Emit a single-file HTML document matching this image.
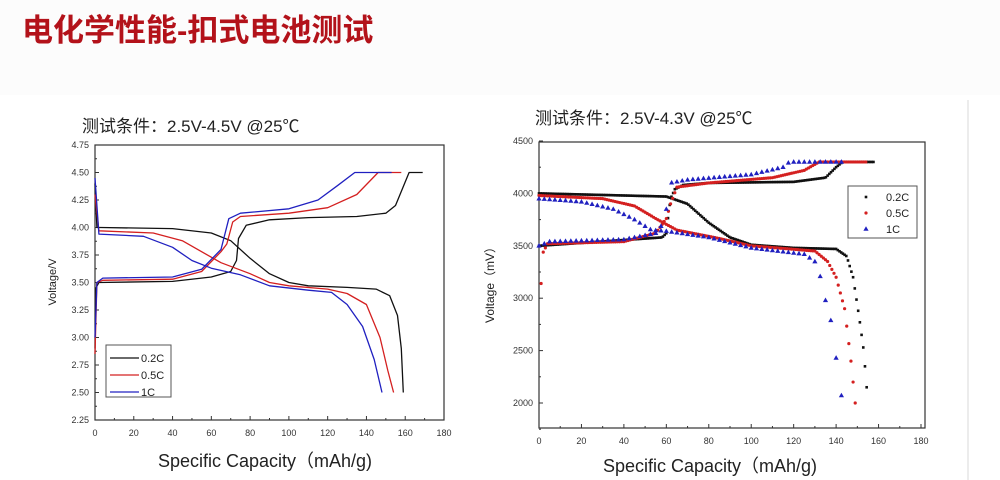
<!DOCTYPE html>
<html><head><meta charset="utf-8"><style>
body{margin:0;width:1000px;height:480px;background:#fff;overflow:hidden;font-family:"Liberation Sans","Noto Sans CJK SC",sans-serif;}
svg{position:absolute;left:0;top:0}
</style></head><body>
<svg id="s" width="1000" height="480" xmlns="http://www.w3.org/2000/svg" font-family="Liberation Sans, Noto Sans CJK SC, sans-serif">
<rect x="0" y="0" width="1000" height="95" fill="#fcfcfc"/>
<text x="22" y="41" font-size="31" font-weight="bold" fill="#b3121a" font-family="Liberation Sans, Noto Sans CJK SC, sans-serif">电化学性能-扣式电池测试</text>
<text x="82" y="132" font-size="17" fill="#222">测试条件：2.5V-4.5V  @25℃</text>
<text x="535" y="124" font-size="17" fill="#222">测试条件：2.5V-4.3V  @25℃</text>
<line x1="968" y1="100" x2="968" y2="480" stroke="#ececec" stroke-width="2"/>
<g id="L"></g><g id="R"></g>
</svg>
<script>
var NS="http://www.w3.org/2000/svg";
function el(p,t,a,txt){var e=document.createElementNS(NS,t);for(var k in a)e.setAttribute(k,a[k]);if(txt!=null)e.textContent=txt;p.appendChild(e);return e;}
var L=document.getElementById('L');
var lx0=95,lx1=444,ly0=145,ly1=420;
function LX(x){return lx0+x*(lx1-lx0)/180;}
function LY(v){return ly1-(v-2.25)*(ly1-ly0)/2.5;}
el(L,'rect',{x:lx0,y:ly0,width:lx1-lx0,height:ly1-ly0,fill:'none',stroke:'#333','stroke-width':1.2});
for(var i=0;i<=10;i++){var v=2.25+i*0.25,y=LY(v);el(L,'line',{x1:lx0,x2:lx0+4,y1:y,y2:y,stroke:'#333'});el(L,'text',{x:lx0-6,y:y+3,'font-size':9,'text-anchor':'end',fill:'#333'},v.toFixed(2));
 if(i<10){var y2=LY(v+0.125);el(L,'line',{x1:lx0,x2:lx0+2,y1:y2,y2:y2,stroke:'#333'});}}
for(var i=0;i<=9;i++){var x=LX(i*20);el(L,'line',{x1:x,x2:x,y1:ly1,y2:ly1-4,stroke:'#333'});el(L,'text',{x:x,y:ly1+16,'font-size':9,'text-anchor':'middle',fill:'#333'},i*20);
 if(i<9){var xx=LX(i*20+10);el(L,'line',{x1:xx,x2:xx,y1:ly1,y2:ly1-2,stroke:'#333'});}}
el(L,'text',{x:0,y:0,'font-size':11,'text-anchor':'middle',fill:'#222',transform:'translate(56,282) rotate(-90)'},'Voltage/V');
el(L,'text',{x:265,y:467,'font-size':18,'text-anchor':'middle',fill:'#222'},'Specific Capacity（mAh/g)');
var lc={
k:[[[0,2.9],[0.5,3.45],[2,3.5],[40,3.51],[60,3.55],[70,3.6],[73,3.7],[74,3.9],[78,4.02],[90,4.07],[110,4.09],[135,4.1],[150,4.13],[155,4.2],[162,4.5],[169,4.5]],
   [[0,4.4],[1,4.0],[3,4.0],[40,3.99],[60,3.95],[70,3.88],[80,3.72],[90,3.58],[100,3.5],[110,3.47],[130,3.455],[145,3.44],[152,3.38],[156,3.2],[158,2.9],[159,2.5]]],
r:[[[0,2.85],[1,3.5],[4,3.52],[40,3.53],[55,3.6],[65,3.78],[68,3.85],[71,4.05],[75,4.1],[100,4.13],[120,4.18],[135,4.3],[146,4.5],[158,4.5]],
   [[0,4.3],[2,3.97],[30,3.95],[45,3.88],[55,3.78],[65,3.68],[80,3.58],[90,3.5],[100,3.47],[120,3.44],[130,3.4],[140,3.3],[147,3.0],[151,2.7],[154,2.5]]],
b:[[[0,3.0],[1,3.5],[4,3.54],[40,3.55],[55,3.62],[65,3.8],[69,4.08],[75,4.13],[100,4.17],[115,4.25],[125,4.38],[134,4.5],[153,4.5]],
   [[0,4.45],[2,3.94],[25,3.92],[40,3.82],[50,3.7],[60,3.63],[75,3.57],[90,3.47],[110,3.43],[122,3.41],[130,3.3],[138,3.1],[144,2.8],[148,2.5]]]};
var col={k:'#111',r:'#d42020',b:'#2020c0'};
['k','r','b'].forEach(function(c){lc[c].forEach(function(p){el(L,'polyline',{points:p.map(function(q){return LX(q[0]).toFixed(1)+','+LY(q[1]).toFixed(1)}).join(' '),fill:'none',stroke:col[c],'stroke-width':1.3,'stroke-linejoin':'round'});});});
el(L,'rect',{x:106,y:345,width:65,height:52,fill:'#fff',stroke:'#555'});
[['k','0.2C'],['r','0.5C'],['b','1C']].forEach(function(a,i){var y=358+i*17;el(L,'line',{x1:110,x2:139,y1:y,y2:y,stroke:col[a[0]],'stroke-width':1.3});el(L,'text',{x:141,y:y+4,'font-size':11,fill:'#222'},a[1]);});
var R=document.getElementById('R');
var rx0=539,rx1=925,ry0=142,ry1=428;
function RX(x){return 539+x*(921-539)/180;}
function RY(v){return 403-(v-2000)*(403-141)/2500;}
el(R,'rect',{x:rx0,y:ry0,width:rx1-rx0,height:ry1-ry0,fill:'none',stroke:'#333','stroke-width':1.2});
for(var i=0;i<=5;i++){var v=2000+i*500,y=RY(v);el(R,'line',{x1:rx0,x2:rx0+4,y1:y,y2:y,stroke:'#333'});el(R,'text',{x:rx0-6,y:y+3,'font-size':9,'text-anchor':'end',fill:'#333'},v);
 var y2=RY(v-250);el(R,'line',{x1:rx0,x2:rx0+2,y1:y2,y2:y2,stroke:'#333'});}
for(var i=0;i<=9;i++){var x=RX(i*20);el(R,'line',{x1:x,x2:x,y1:ry1,y2:ry1-4,stroke:'#333'});el(R,'text',{x:x,y:ry1+16,'font-size':9,'text-anchor':'middle',fill:'#333'},i*20);
 if(i<9){var xx=RX(i*20+10);el(R,'line',{x1:xx,x2:xx,y1:ry1,y2:ry1-2,stroke:'#333'});}}
el(R,'text',{x:0,y:0,'font-size':12,'text-anchor':'middle',fill:'#222',transform:'translate(494,282) rotate(-90)'},'Voltage（mV）');
el(R,'text',{x:710,y:472,'font-size':18,'text-anchor':'middle',fill:'#222'},'Specific Capacity（mAh/g)');
var rc={
k:[[[0,3500],[58,3580],[60,3620],[61,3800],[62,3950],[64,4040],[68,4080],[80,4100],[120,4110],[135,4150],[140,4250],[143,4300],[158,4300]],
   [[0,4000],[60,3970],[70,3900],[80,3720],[90,3580],[100,3510],[120,3480],[140,3470],[145,3400],[148,3200],[151,2800],[153,2500],[155,2000]]],
r:[[[1,3140],[2,3440],[4,3520],[40,3540],[55,3620],[60,3760],[62,3900],[65,4060],[80,4100],[110,4150],[125,4220],[132,4300],[154,4300]],
   [[0,3980],[30,3950],[45,3880],[55,3760],[65,3650],[85,3570],[100,3500],[130,3450],[136,3350],[140,3200],[144,2900],[147,2400],[149,2000]]],
b:[[[0,3500],[5,3540],[40,3560],[55,3620],[58,3700],[60,3850],[62,4100],[70,4130],[100,4180],[115,4250],[118,4300],[143,4300]],
   [[0,3950],[20,3920],[35,3850],[45,3750],[53,3650],[60,3640],[80,3580],[100,3480],[125,3420],[130,3350],[133,3180],[135,2980],[138,2750],[140,2430],[143,2000]]]};
var sp={k:0.8,r:1.0,b:2.5};
function marker(c,x,y){if(c=='k')el(R,'rect',{x:x-1.3,y:y-1.3,width:2.6,height:2.6,fill:'#111'});
 else if(c=='r')el(R,'circle',{cx:x,cy:y,r:1.6,fill:'#d42020'});
 else el(R,'polygon',{points:(x)+','+(y-2.8)+' '+(x-2.6)+','+(y+1.8)+' '+(x+2.6)+','+(y+1.8),fill:'#2020c0'});}
function interp(p,x){for(var i=1;i<p.length;i++){if(x<=p[i][0]){var a=p[i-1],b=p[i];if(b[0]==a[0])return b[1];return a[1]+(b[1]-a[1])*(x-a[0])/(b[0]-a[0]);}}return p[p.length-1][1];}
['k','r','b'].forEach(function(c){rc[c].forEach(function(p){
 var x0=p[0][0],x1=p[p.length-1][0];
 for(var x=x0;x<=x1+1e-6;x+=sp[c]){marker(c,RX(x),RY(interp(p,x)));}
});});
el(R,'rect',{x:848,y:186,width:69,height:52,fill:'#fff',stroke:'#555'});
[['k','0.2C'],['r','0.5C'],['b','1C']].forEach(function(a,i){var y=197+i*16;marker(a[0],866,y);el(R,'text',{x:886,y:y+4,'font-size':11,fill:'#222'},a[1]);});
</script>
</body></html>
